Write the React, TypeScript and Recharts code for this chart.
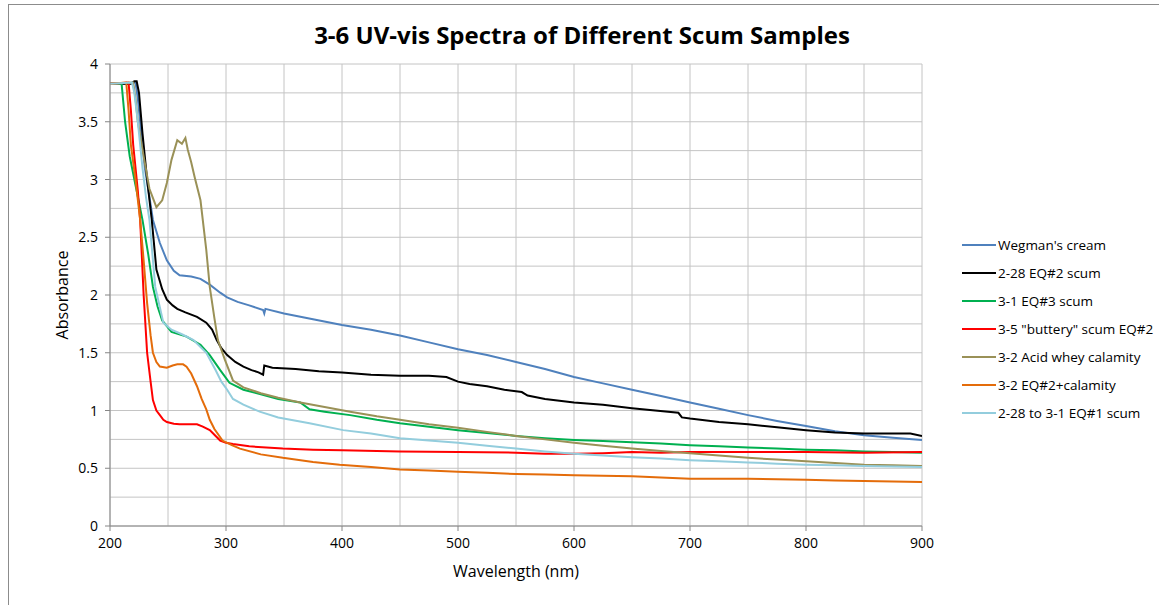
import React from "react";
import { LineChart, Line, XAxis, YAxis, CartesianGrid } from "recharts";

const seriesNames = [
  "Wegman's cream",
  "2-28 EQ#2 scum",
  "3-1 EQ#3 scum",
  '3-5 "buttery" scum EQ#2',
  "3-2 Acid whey calamity",
  "3-2 EQ#2+calamity",
  "2-28 to 3-1 EQ#1 scum",
];
const seriesColors = ["#4F81BD", "#000000", "#00B050", "#FF0000", "#9A9157", "#E46C0A", "#93CDDD"];

const wegmanWl = [200, 215, 222, 224, 226, 230, 234, 237, 243, 249, 255, 260, 270, 278, 286, 295, 301, 310, 320, 332, 333, 334, 350, 375, 400, 425, 450, 475, 500, 525, 550, 575, 600, 625, 650, 675, 700, 725, 750, 775, 800, 825, 850, 875, 900];
const wegmanAbs = [3.83, 3.83, 3.84, 3.7, 3.5, 3.1, 2.85, 2.65, 2.45, 2.3, 2.21, 2.17, 2.16, 2.14, 2.09, 2.02, 1.98, 1.94, 1.91, 1.87, 1.84, 1.88, 1.84, 1.79, 1.74, 1.7, 1.65, 1.59, 1.53, 1.48, 1.42, 1.36, 1.29, 1.235, 1.18, 1.125, 1.07, 1.015, 0.96, 0.91, 0.865, 0.82, 0.785, 0.765, 0.745];

const blackWl = [200, 218, 221, 223, 225, 228, 232, 236, 240, 245, 249, 254, 258, 265, 275, 283, 288, 292, 296, 301, 308, 315, 322, 328, 332, 333, 340, 360, 380, 400, 425, 450, 475, 490, 500, 510, 525, 540, 555, 560, 575, 600, 625, 650, 670, 690, 693, 700, 725, 750, 775, 800, 825, 850, 875, 890, 900];
const blackAbs = [3.83, 3.83, 3.85, 3.85, 3.75, 3.4, 3.0, 2.65, 2.22, 2.05, 1.96, 1.91, 1.88, 1.85, 1.81, 1.76, 1.7, 1.61, 1.54, 1.48, 1.42, 1.38, 1.35, 1.33, 1.31, 1.39, 1.37, 1.36, 1.34, 1.33, 1.31, 1.3, 1.3, 1.29, 1.25, 1.23, 1.21, 1.18, 1.16, 1.13, 1.1, 1.07, 1.05, 1.02, 1.0, 0.98, 0.94, 0.93, 0.9, 0.88, 0.855, 0.83, 0.81, 0.8, 0.8, 0.8, 0.78];

const greenWl = [200, 210, 213, 217, 222, 228, 233, 237, 241, 245, 253, 266, 278, 286, 295, 303, 315, 330, 345, 364, 372, 385, 407, 430, 450, 475, 500, 525, 550, 575, 600, 625, 650, 675, 700, 725, 750, 775, 800, 825, 850, 875, 900];
const greenAbs = [3.83, 3.83, 3.5, 3.2, 2.95, 2.65, 2.35, 2.07, 1.9, 1.78, 1.68, 1.64, 1.57, 1.48, 1.35, 1.24, 1.18, 1.14, 1.1, 1.07, 1.01, 0.99, 0.96, 0.92, 0.89, 0.86, 0.83, 0.805, 0.78, 0.76, 0.745, 0.735, 0.725, 0.715, 0.7, 0.69, 0.68, 0.67, 0.66, 0.655, 0.645, 0.64, 0.635];

const redWl = [200, 216, 218, 220, 224, 226, 229, 232, 235, 237, 240, 243, 246, 249, 255, 260, 275, 280, 286, 290, 295, 300, 306, 320, 349, 375, 400, 450, 500, 550, 575, 600, 625, 650, 675, 700, 750, 800, 850, 900];
const redAbs = [3.83, 3.84, 3.6, 3.3, 2.9, 2.65, 2.0, 1.5, 1.25, 1.09, 1.0, 0.96, 0.92, 0.9, 0.885, 0.88, 0.88, 0.86, 0.83, 0.79, 0.74, 0.72, 0.71, 0.69, 0.67, 0.66, 0.655, 0.645, 0.64, 0.635, 0.625, 0.625, 0.63, 0.64, 0.635, 0.64, 0.64, 0.64, 0.635, 0.64];

const wheyWl = [200, 220, 222, 224, 229, 234, 240, 245, 249, 253, 258, 262, 265, 267, 270, 273, 278, 283, 286, 290, 293, 299, 306, 315, 330, 345, 364, 385, 407, 430, 450, 475, 500, 525, 550, 575, 600, 625, 650, 675, 700, 725, 750, 775, 800, 825, 850, 875, 900];
const wheyAbs = [3.83, 3.84, 3.7, 3.5, 3.2, 2.92, 2.76, 2.82, 2.97, 3.17, 3.34, 3.31, 3.36, 3.26, 3.15, 3.02, 2.82, 2.39, 2.07, 1.8, 1.61, 1.44, 1.26, 1.2, 1.15, 1.11, 1.07, 1.03, 0.99, 0.95, 0.92, 0.88, 0.85, 0.815, 0.78, 0.75, 0.72, 0.695, 0.67, 0.65, 0.63, 0.61, 0.59, 0.575, 0.56, 0.545, 0.53, 0.525, 0.52];

const orangeWl = [200, 214, 216, 218, 222, 226, 229, 232, 235, 237, 240, 243, 249, 254, 258, 263, 266, 270, 275, 279, 283, 286, 290, 297, 305, 312, 330, 349, 375, 398, 425, 450, 475, 500, 525, 550, 575, 600, 625, 650, 675, 700, 725, 750, 775, 800, 825, 850, 875, 900];
const orangeAbs = [3.83, 3.84, 3.6, 3.3, 3.0, 2.65, 2.3, 1.93, 1.65, 1.5, 1.42, 1.38, 1.37, 1.39, 1.4, 1.4, 1.38, 1.32, 1.21, 1.1, 1.01, 0.92, 0.84, 0.74, 0.7, 0.67, 0.62, 0.59, 0.555, 0.53, 0.51, 0.49, 0.48, 0.47, 0.46, 0.45, 0.445, 0.44, 0.435, 0.43, 0.42, 0.41, 0.41, 0.41, 0.405, 0.4, 0.395, 0.39, 0.385, 0.38];

const lightWl = [200, 219, 221, 224, 228, 231, 234, 239, 246, 253, 262, 272, 283, 291, 296, 301, 306, 315, 329, 345, 372, 401, 425, 450, 475, 500, 525, 550, 575, 600, 625, 650, 675, 700, 725, 750, 775, 800, 825, 850, 875, 900];
const lightAbs = [3.83, 3.84, 3.75, 3.5, 3.1, 2.85, 2.65, 2.07, 1.76, 1.7, 1.66, 1.61, 1.5, 1.35, 1.25, 1.18, 1.1, 1.05, 0.99, 0.94, 0.89, 0.83, 0.8, 0.76, 0.74, 0.72, 0.695, 0.67, 0.645, 0.625, 0.61, 0.595, 0.585, 0.57, 0.56, 0.55, 0.54, 0.53, 0.525, 0.52, 0.515, 0.51];

const xMajorTicks = [200, 300, 400, 500, 600, 700, 800, 900];
const xAllTicks = [200, 250, 300, 350, 400, 450, 500, 550, 600, 650, 700, 750, 800, 850, 900];
const yMajorTicks = [0, 0.5, 1, 1.5, 2, 2.5, 3, 3.5, 4];
const yAllTicks = [0, 0.25, 0.5, 0.75, 1, 1.25, 1.5, 1.75, 2, 2.25, 2.5, 2.75, 3, 3.25, 3.5, 3.75, 4];

const zip = (wl: number[], ab: number[]) => wl.map((w, i) => ({ wl: w, a: ab[i] }));
const seriesData = [
  zip(wegmanWl, wegmanAbs),
  zip(blackWl, blackAbs),
  zip(greenWl, greenAbs),
  zip(redWl, redAbs),
  zip(wheyWl, wheyAbs),
  zip(orangeWl, orangeAbs),
  zip(lightWl, lightAbs),
];

const FONT = "'Open Sans', sans-serif";
const AXIS = "#868686";
const TICK_SIZE = 5;
const X_MARGIN = 6;
const Y_MARGIN = 7;

const XTick = (props: any) => {
  const { x, y, payload } = props;
  if (!xMajorTicks.includes(payload.value)) return null;
  return (
    <g>
      <line x1={x} x2={x} y1={y - X_MARGIN - TICK_SIZE} y2={y - X_MARGIN} stroke={AXIS} />
      <text x={x} y={y} dy="0.8em" textAnchor="middle" fill="#000" fontSize={14} fontFamily={FONT}>
        {payload.value}
      </text>
    </g>
  );
};

const YTick = (props: any) => {
  const { x, y, payload } = props;
  if (!yMajorTicks.includes(payload.value)) return null;
  return (
    <g>
      <line x1={x + Y_MARGIN} x2={x + Y_MARGIN + TICK_SIZE} y1={y} y2={y} stroke={AXIS} />
      <text x={x} y={y} dy="0.36em" textAnchor="end" fill="#000" fontSize={14} fontFamily={FONT}>
        {payload.value}
      </text>
    </g>
  );
};

export default function App() {
  return (
    <div style={{ position: "absolute", left: 0, top: 0, width: 1159, height: 605, overflow: "hidden", background: "#fff", fontFamily: FONT }}>
      <div style={{ position: "absolute", left: 8, top: 4, width: 1200, height: 700, borderLeft: "1px solid #8c8c8c", borderTop: "1px solid #8c8c8c" }} />
      <div style={{ position: "absolute", left: 0, width: 1164, top: 19, textAlign: "center", fontSize: 24, fontWeight: 700, color: "#000", lineHeight: "32px" }}>
        3-6 UV-vis Spectra of Different Scum Samples
      </div>
      <div style={{ position: "absolute", left: 0, top: 0 }}>
        <LineChart width={1159} height={605} margin={{ top: 64, right: 237, left: 0, bottom: 0 }}>
          <CartesianGrid stroke="#c4c4c4" strokeWidth={1} />
          <XAxis
            type="number"
            dataKey="wl"
            domain={[200, 900]}
            ticks={xAllTicks}
            interval={0}
            allowDataOverflow
            height={79}
            tickSize={TICK_SIZE}
            tickMargin={X_MARGIN}
            tickLine={false}
            stroke={AXIS}
            tick={<XTick />}
            label={{ value: "Wavelength (nm)", position: "center", dy: 6, fill: "#000", fontSize: 16, fontFamily: FONT }}
          />
          <YAxis
            type="number"
            domain={[0, 4]}
            ticks={yAllTicks}
            interval={0}
            allowDataOverflow
            width={110}
            tickSize={TICK_SIZE}
            tickMargin={Y_MARGIN}
            tickLine={false}
            stroke={AXIS}
            tick={<YTick />}
            label={{ value: "Absorbance", angle: -90, position: "center", dx: 7, fill: "#000", fontSize: 16, fontFamily: FONT }}
          />
          {seriesData.map((d, i) => (
            <Line
              key={seriesNames[i]}
              data={d}
              dataKey="a"
              name={seriesNames[i]}
              type="linear"
              stroke={seriesColors[i]}
              strokeWidth={2}
              dot={false}
              activeDot={false}
              isAnimationActive={false}
            />
          ))}
        </LineChart>
      </div>
      <div style={{ position: "absolute", left: 962, top: 231 }}>
        {seriesNames.map((n, i) => (
          <div key={n} style={{ display: "flex", alignItems: "center", height: 28 }}>
            <svg width={34} height={4} style={{ marginRight: 2 }}>
              <line x1={0} y1={2} x2={34} y2={2} stroke={seriesColors[i]} strokeWidth={2} />
            </svg>
            <span style={{ fontSize: 13.5, color: "#000", whiteSpace: "nowrap" }}>{n}</span>
          </div>
        ))}
      </div>
    </div>
  );
}
